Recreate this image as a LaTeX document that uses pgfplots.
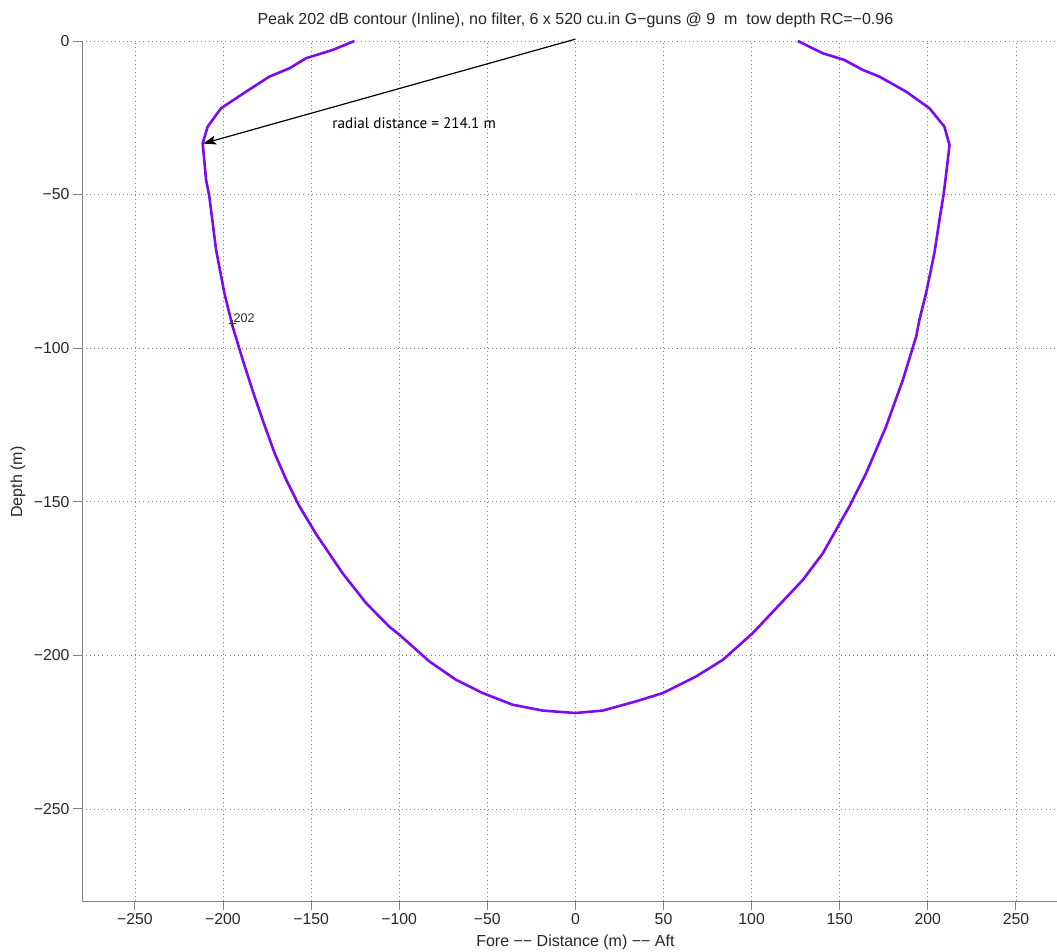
\documentclass[border=0pt]{standalone}
\usepackage{fontspec}
\setmainfont{Liberation Sans}
\newfontfamily\annfont{PT Sans}
\usepackage{pgfplots}
\pgfplotsset{compat=1.18}
\usetikzlibrary{arrows.meta}
\definecolor{contour}{RGB}{125,10,245}
\definecolor{axgray}{RGB}{128,128,128}
\begin{document}
\begin{tikzpicture}
\begin{axis}[
  scale only axis, width=975pt, height=860pt,
  xmin=-280, xmax=273.3, ymin=-280, ymax=0,
  axis x line*=bottom, axis y line*=left,
  x axis line style={-}, y axis line style={-},
  axis line style={axgray, line width=0.9pt},
  clip=false,
  xtick={-250,-200,-150,-100,-50,0,50,100,150,200,250},
  xticklabels={−250,−200,−150,−100,−50,0,50,100,150,200,250},
  ytick={-250,-200,-150,-100,-50,0},
  yticklabels={−250,−200,−150,−100,−50,0},
  tick align=outside, major tick length=9pt,
  tick style={axgray, line width=0.9pt},
  ticklabel style={font=\fontsize{15.8}{18}\selectfont, text=black!85},
  grid=major,
  major grid style={dash pattern=on 0.9pt off 3.2pt, black!50, line width=0.7pt},
]
\addplot[contour, line width=2.6pt, line join=round] coordinates {
(-125.4,0) (-137.7,-2.9) (-152.8,-5.6) (-162.3,-8.9) (-173.7,-11.6)
(-186.9,-16.5) (-201.1,-21.9) (-208.7,-27.9) (-211.5,-33.3) (-209.6,-45.2)
(-207.8,-50.4) (-203.9,-68) (-199.2,-82.1) (-194.5,-93) (-188.8,-103.8)
(-182.5,-115) (-176.5,-125) (-170.5,-134.5) (-164,-143) (-156.6,-151.5) (-147.2,-160.5)
(-132.1,-173.3) (-118.8,-183) (-105.6,-190.7) (-99.9,-193.3) (-82.9,-202)
(-67.7,-208) (-52.6,-212.3) (-35.6,-216.1) (-18.6,-218) (0,-218.8)
(15.5,-218) (34.4,-215) (49.6,-212.3) (68.5,-206.9) (83.6,-201.5)
(100.6,-192.8) (113.9,-184.7) (129,-175.5) (140.4,-166.8) (155.5,-151.5)
(165,-140.7) (176.3,-125.5) (185.8,-110.4) (193.4,-96.2) (195.2,-90.8)
(199,-82.1) (203.7,-69.1) (206.6,-58.3) (208.9,-50.1) (210,-45.2)
(212.3,-33.9) (209.4,-27.9) (200.9,-21.9) (187.7,-16.5) (172.5,-11.6)
(163,-9.4) (152.7,-6.2) (140.4,-4) (126.2,0)
};
\addplot[only marks, mark=+, mark size=3.5pt, black!80, mark options={line width=0.6pt}] coordinates {(-194.5,-92)};
\node[anchor=south west, inner sep=0pt, font=\fontsize{12.5}{14}\selectfont, text=black!85] at (axis cs:-194,-91.8) {202};
\draw[black, line width=1.2pt, -{Stealth[length=13pt, width=9pt, inset=3pt]}] (axis cs:0,0.6) -- (axis cs:-211.3,-33.4);
\node[anchor=base west, inner sep=0pt, font=\annfont\fontsize{15.2}{18}\selectfont] at (axis cs:-138,-28.4) {radial distance = 214.1 m};
\node[font=\fontsize{16}{19}\selectfont, text=black!85] at ([yshift=21pt]axis cs:0,0) {Peak 202 dB contour (Inline), no filter, 6 x 520 cu.in G−guns @ 9~~m~~tow depth RC=−0.96};
\node[font=\fontsize{16}{19}\selectfont, text=black!85] at ([yshift=-41pt]axis cs:0,-280) {Fore −− Distance (m) −− Aft};
\node[rotate=90, font=\fontsize{16}{19}\selectfont, text=black!85] at ([xshift=-64pt]rel axis cs:0,0.487) {Depth (m)};
\coordinate (sw) at (rel axis cs:0,0);
\coordinate (ne) at (rel axis cs:1,1);
\end{axis}
\pgfresetboundingbox
\path[use as bounding box] ([xshift=-82pt,yshift=-51pt]sw) rectangle ([yshift=41pt]ne);
\end{tikzpicture}
\end{document}
